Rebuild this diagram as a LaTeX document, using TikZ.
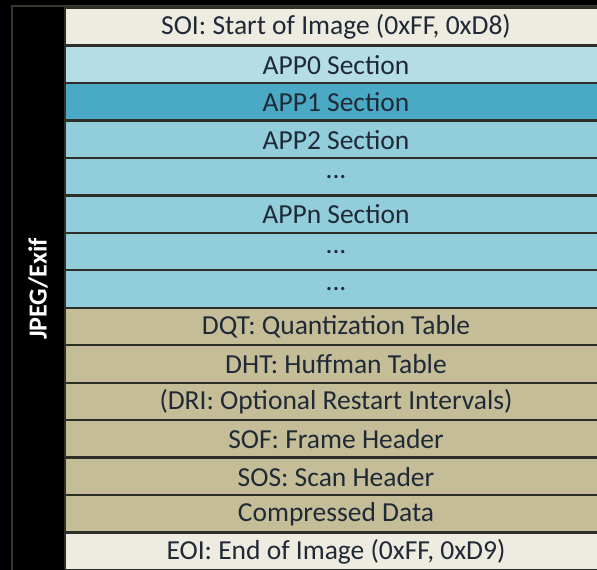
\documentclass[tikz,border=0pt]{standalone}
\usepackage{fontspec}
\setmainfont{Carlito}
\definecolor{soi}{HTML}{EEEBE0}
\definecolor{appa}{HTML}{B4DDE8}
\definecolor{appb}{HTML}{4AAAC6}
\definecolor{appc}{HTML}{92CDDC}
\definecolor{tan}{HTML}{C4BD97}
\definecolor{sep}{HTML}{2E2E28}
\definecolor{frame}{HTML}{3A372A}
\definecolor{txt}{HTML}{1F2A36}
\begin{document}
\begin{tikzpicture}[x=1pt,y=-1pt,
  row/.style={draw=sep,line width=2.4pt},
  lab/.style={text=txt,font=\fontsize{27.5}{30}\selectfont},
  side/.style={text=white,font=\bfseries\fontsize{26}{28}\selectfont,rotate=90}]
\fill[black] (0,0) rectangle (597,570);
\useasboundingbox (0,0) rectangle (597,570);
\draw[frame,line width=2pt] (12,575) -- (12,6) -- (600,6);
\def\rowh{37.47}
\foreach \i/\c/\t in {0/soi/{SOI: Start of Image (0xFF, 0xD8)},
  1/appa/{APP0 Section},2/appb/{APP1 Section},3/appc/{APP2 Section},
  4/appc/{...},5/appc/{APPn Section},6/appc/{...},7/appc/{...},
  8/tan/{DQT: Quantization Table},9/tan/{DHT: Huffman Table},
  10/tan/{(DRI: Optional Restart Intervals)},11/tan/{SOF: Frame Header},
  12/tan/{SOS: Scan Header},13/tan/{Compressed Data},
  14/soi/{EOI: End of Image (0xFF, 0xD9)}}{
  \path[row,fill=\c] (65,8+\i*\rowh) rectangle (600,8+\i*\rowh+\rowh);
  \node[lab] (r\i) at (336,8.5+\i*\rowh+0.5*\rowh) {\t};
}
\node[side] (lbl) at (38,289) {JPEG/Exif};
\end{tikzpicture}
\end{document}
